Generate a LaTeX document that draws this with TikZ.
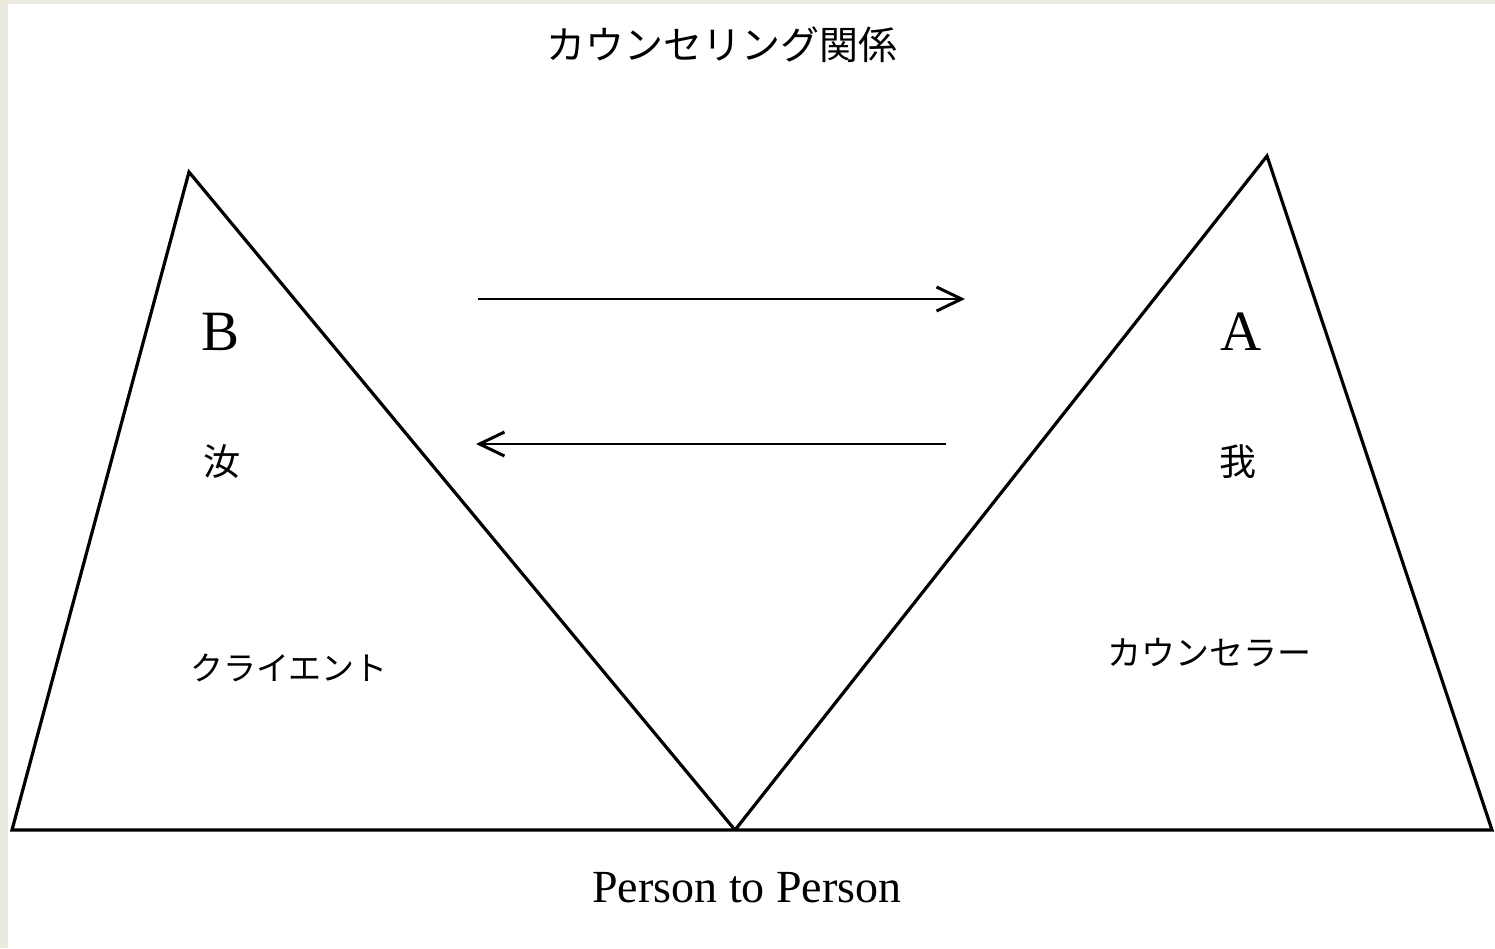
\documentclass[tikz,border=0pt]{standalone}
\usepackage{fontspec}
\setmainfont{Liberation Serif}
\newfontfamily\cjk{Noto Sans CJK JP}
\usetikzlibrary{arrows.meta}
\definecolor{bgbeige}{RGB}{236,233,222}
\begin{document}
\begin{tikzpicture}[x=1pt,y=-1pt,
  edge/.style={line width=3.2pt,line join=miter},
  flow/.style={line width=2.6pt,-{Straight Barb[length=25pt,width=24pt,line width=3pt]}},
  jtext/.style={font=\cjk\fontsize{#1}{#1}\selectfont,inner sep=0pt},
  ltext/.style={font=\fontsize{#1}{#1}\selectfont,inner sep=0pt}]
\useasboundingbox (0,0) rectangle (1495,948);
\fill[bgbeige] (0,0) rectangle (1495,948);
\fill[white] (8,4) rectangle (1495,948);
% corner points
\coordinate (bl) at (12,830);
\coordinate (ba) at (189,172);
\coordinate (mid) at (735,830);
\coordinate (aa) at (1267,156);
\coordinate (br) at (1492,830);
\draw[edge] (mid) -- (ba) -- (bl) -- (br) -- (aa) -- (mid);
% arrows
\coordinate (r1s) at (478,299);
\coordinate (r1e) at (965,299);
\coordinate (l1s) at (946,444);
\coordinate (l1e) at (476,444);
\draw[flow] (r1s) -- (r1e);
\draw[flow] (l1s) -- (l1e);
% texts
\node[jtext=39pt] (title) at (722,45) {カウンセリング関係};
\node[ltext=57pt] (B) at (221,332) {B};
\node[ltext=57pt] (A) at (1241,332) {A};
\node[jtext=37pt] (you) at (222,462) {汝};
\node[jtext=37pt] (me) at (1238,462) {我};
\node[jtext=33pt] (client) at (289,668) {クライエント};
\node[jtext=34pt] (counselor) at (1209,653) {カウンセラー};
\node[ltext=46pt] (p2p) at (747,888) {Person to Person};
\end{tikzpicture}
\end{document}
